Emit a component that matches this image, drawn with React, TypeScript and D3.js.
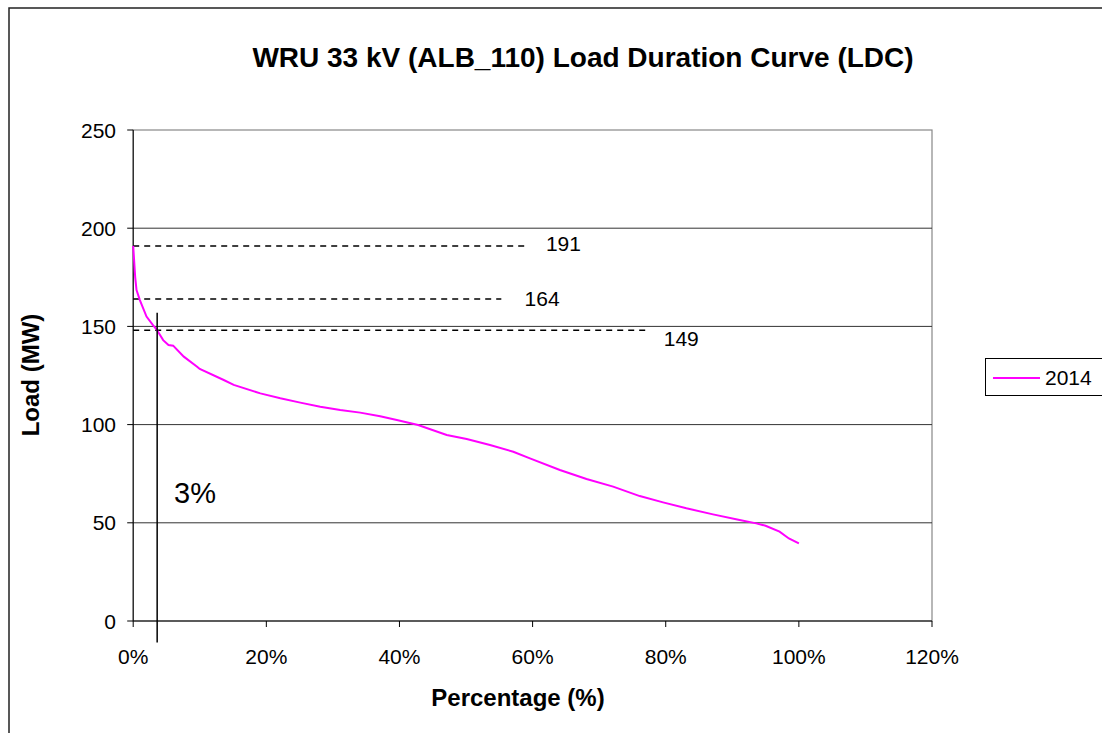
import React from "react";
import * as d3 from "d3";

const pct = [0, 0.3, 0.5, 1, 2, 3, 3.5, 4.5, 5.3, 6, 7.6, 9.6, 10, 13.6, 15.1, 19.1, 22.1, 25.1, 28.1, 31.1, 34.1, 37.1, 39.6, 42.8, 47.1, 50.1, 53.6, 57.1, 59.6, 64.1, 68.1, 72.1, 76.1, 79.6, 83.1, 87.1, 91.1, 93.6, 95, 97.1, 98.5, 100];
const load2014 = [191, 175, 168.5, 163.4, 155, 150.5, 148.5, 143, 140.5, 140.2, 134.6, 129.5, 128.3, 122.7, 120.2, 115.9, 113.4, 111.2, 109.1, 107.4, 106.1, 104.2, 102.3, 99.8, 94.7, 92.7, 89.6, 86.2, 82.8, 76.9, 72.3, 68.4, 63.6, 60.4, 57.4, 54.3, 51.4, 49.7, 48.5, 45.5, 42, 39.5];
const yTicks = [0, 50, 100, 150, 200, 250];
const xTicks = [0, 20, 40, 60, 80, 100, 120];
const refValues = [191, 164, 148];
const refLabels = ["191", "164", "149"];
const refEnds = [59, 55.3, 77];
const refLabelX = [62, 58.8, 79.7];
const refLabelY = [188.4, 160.4, 140];
const markerPct = 3.6;
const markerTop = 157;
const markerBottom = -11;

const FONT = "'Liberation Sans', Arial, sans-serif";

export default function App() {
  const x = d3.scaleLinear().domain([0, 120]).range([133.2, 932]);
  const y = d3.scaleLinear().domain([0, 250]).range([621, 130]);
  const line = d3
    .line<number>()
    .x((_, i) => x(pct[i]))
    .y((d) => y(d));

  return (
    <svg
      width={1102}
      height={733}
      style={{ position: "absolute", left: 0, top: 0, background: "#fff" }}
      fontFamily={FONT}
    >
      <rect x={9} y={8} width={1200} height={800} fill="#fff" stroke="#222" strokeWidth={1.5} />
      <text x={583} y={67} textAnchor="middle" fontSize={28} fontWeight="bold">
        WRU 33 kV (ALB_110) Load Duration Curve (LDC)
      </text>

      {/* plot area border */}
      <rect x={x(0)} y={y(250)} width={x(120) - x(0)} height={y(0) - y(250)} fill="#fff" stroke="#888" strokeWidth={1.2} />

      {/* gridlines */}
      {yTicks.filter((t) => t > 0 && t < 250).map((t) => (
        <line key={t} x1={x(0)} x2={x(120)} y1={y(t)} y2={y(t)} stroke="#333" strokeWidth={1} />
      ))}

      {/* y axis */}
      <line x1={x(0)} x2={x(0)} y1={y(250)} y2={y(0)} stroke="#000" strokeWidth={1} />
      {yTicks.map((t) => (
        <g key={t}>
          <line x1={x(0) - 6} x2={x(0)} y1={y(t)} y2={y(t)} stroke="#000" />
          <text x={116} y={y(t)} dy="0.36em" textAnchor="end" fontSize={21}>
            {t}
          </text>
        </g>
      ))}

      {/* x axis */}
      <line x1={x(0)} x2={x(120)} y1={y(0)} y2={y(0)} stroke="#000" strokeWidth={1.2} />
      {xTicks.map((t) => (
        <g key={t}>
          <line x1={x(t)} x2={x(t)} y1={y(0)} y2={y(0) + 6} stroke="#000" />
          <text x={x(t)} y={664} textAnchor="middle" fontSize={21}>
            {t}%
          </text>
        </g>
      ))}

      {/* reference dashed lines */}
      {refValues.map((v, i) => (
        <g key={i}>
          <line x1={x(0)} x2={x(refEnds[i])} y1={y(v)} y2={y(v)} stroke="#000" strokeWidth={1.5} strokeDasharray="6,5" />
          <text x={x(refLabelX[i])} y={y(refLabelY[i])} fontSize={21}>
            {refLabels[i]}
          </text>
        </g>
      ))}

      {/* curve */}
      <path d={line(load2014) || ""} fill="none" stroke="#FF00FF" strokeWidth={2} />

      {/* marker line */}
      <line x1={x(markerPct)} x2={x(markerPct)} y1={y(markerTop)} y2={y(markerBottom)} stroke="#000" strokeWidth={1.5} />
      <text x={174} y={503} fontSize={29}>
        3%
      </text>

      {/* axis titles */}
      <text x={518} y={706} textAnchor="middle" fontSize={24} fontWeight="bold">
        Percentage (%)
      </text>
      <text transform="translate(39,375) rotate(-90)" textAnchor="middle" fontSize={24} fontWeight="bold">
        Load (MW)
      </text>

      {/* legend */}
      <rect x={985.5} y={358.5} width={130} height={37} fill="#fff" stroke="#000" strokeWidth={1} />
      <line x1={993} x2={1040} y1={378} y2={378} stroke="#FF00FF" strokeWidth={2} />
      <text x={1045} y={385} fontSize={21}>
        2014
      </text>
    </svg>
  );
}
